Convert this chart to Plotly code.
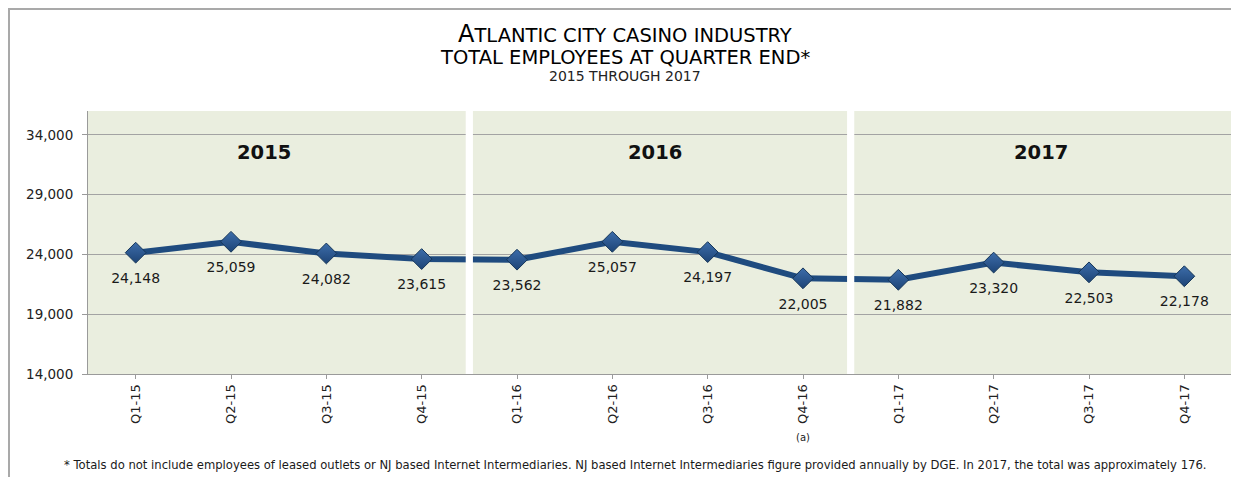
import plotly.graph_objects as go

quarters = ["Q1-15", "Q2-15", "Q3-15", "Q4-15",
            "Q1-16", "Q2-16", "Q3-16", "Q4-16",
            "Q1-17", "Q2-17", "Q3-17", "Q4-17"]
employees = [24148, 25059, 24082, 23615,
             23562, 25057, 24197, 22005,
             21882, 23320, 22503, 22178]
years = ["2015", "2016", "2017"]
year_label_pos = [1.35, 5.45, 9.5]
separators = [3.5, 7.5]

FONT = "DejaVu Sans"
PAGE_OFF = 8  # browser body margin
PAGE_W, PAGE_H = 1239, 477
W, H = PAGE_W - PAGE_OFF, PAGE_H - PAGE_OFF
# plot area in page pixels
PL, PT, PR, PB = 88, 111, 1232, 374
ML, MT = PL - PAGE_OFF, PT - PAGE_OFF
MR, MB = W - (PR - PAGE_OFF), H - (PB - PAGE_OFF)
PW, PH = PR - PL, PB - PT


def px_x(p):
    return (p - PL) / PW


def px_y(p):
    return (PB - p) / PH


fig = go.Figure()
xs = list(range(len(quarters)))
fig.add_trace(go.Scatter(
    x=xs, y=employees,
    mode="lines+markers",
    line=dict(color="#1f4b7f", width=6),
    marker=dict(symbol="diamond", size=16, color="#3d6daa",
                gradient=dict(type="vertical", color="#1d4476"),
                line=dict(color="#163659", width=1)),
    showlegend=False, hoverinfo="skip",
))
fig.add_trace(go.Scatter(
    x=xs, y=employees,
    mode="markers+text",
    marker=dict(size=30, color="rgba(0,0,0,0)"),
    text=[f"{v:,}" for v in employees],
    textposition="bottom center",
    textfont=dict(family=FONT, size=14, color="#1a1a1a"),
    cliponaxis=False, showlegend=False, hoverinfo="skip",
))

shapes = []
half = 3.6 / (PW / len(quarters))
for s in separators:
    shapes.append(dict(type="rect", xref="x", yref="paper",
                       x0=s - half, x1=s + half, y0=0, y1=1,
                       fillcolor="white", line=dict(width=0), layer="above"))
# outer frame (top and left edges) as thin filled bars
shapes.append(dict(type="rect", xref="paper", yref="paper",
                   x0=px_x(8), x1=px_x(1320), y0=px_y(10), y1=px_y(8),
                   fillcolor="#a9a9a9", line=dict(width=0)))
shapes.append(dict(type="rect", xref="paper", yref="paper",
                   x0=px_x(8), x1=px_x(10), y0=px_y(520), y1=px_y(8),
                   fillcolor="#a9a9a9", line=dict(width=0)))

annotations = []
for yl, xp in zip(years, year_label_pos):
    annotations.append(dict(x=xp, y=px_y(152), xref="x", yref="paper",
                            xanchor="center", yanchor="middle",
                            text=f"<b>{yl}</b>", showarrow=False,
                            font=dict(family=FONT, size=19.5, color="#111111")))
tx = px_x(625)


def ann(x, y, text, size, color="#111111", xref="paper"):
    return dict(x=x, y=y, xref=xref, yref="paper", xanchor="center",
                yanchor="middle", showarrow=False, text=text,
                font=dict(family=FONT, size=size, color=color))


annotations += [
    ann(tx, px_y(34), "<span style='font-size:24px'>A</span>TLANTIC CITY CASINO INDUSTRY", 19.5, "#000000"),
    ann(tx, px_y(57), "TOTAL EMPLOYEES AT QUARTER END*", 19.5, "#000000"),
    ann(tx, px_y(76), "2015 THROUGH 2017", 14, "#222222"),
    ann(7, px_y(437), "(a)", 10, "#222222", xref="x"),
    ann(px_x(635), px_y(465),
        "* Totals do not include employees of leased outlets or NJ based Internet Intermediaries. "
        "NJ based Internet Intermediaries figure provided annually by DGE. "
        "In 2017, the total was approximately 176.", 11.6, "#1a1a1a"),
]

fig.update_layout(
    width=W, height=H,
    margin=dict(l=ML, r=MR, t=MT, b=MB, pad=0),
    paper_bgcolor="white",
    plot_bgcolor="#eaeedf",
    shapes=shapes,
    annotations=annotations,
    xaxis=dict(
        tickmode="array", tickvals=xs, ticktext=quarters,
        range=[-0.5, len(quarters) - 0.5],
        tickangle=-90,
        tickfont=dict(family=FONT, size=13, color="#222222"),
        showgrid=False, zeroline=False,
        showline=True, linecolor="#9a9a9a", linewidth=1,
        ticks="outside", ticklen=4, tickcolor="#9a9a9a",
    ),
    yaxis=dict(
        range=[14000, 36000],
        tick0=14000, dtick=5000,
        tickformat=",d",
        tickfont=dict(family=FONT, size=13.5, color="#222222"),
        showgrid=True, gridcolor="#a3a3a3", gridwidth=1,
        zeroline=False,
        showline=True, linecolor="#9a9a9a", linewidth=1,
        ticks="outside", ticklen=5, tickcolor="#9a9a9a",
        ticklabelstandoff=6,
    ),
)

fig.write_html("out.html", config={"displayModeBar": False})
